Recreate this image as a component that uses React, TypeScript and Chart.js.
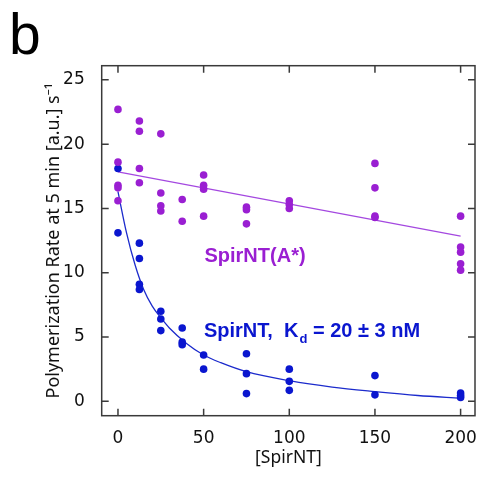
import React, { useEffect, useRef } from "react";
import { Chart, registerables } from "chart.js";

Chart.register(...registerables);

// ---- data ----
const xTicks = [0, 50, 100, 150, 200];
const yTicks = [0, 5, 10, 15, 20, 25];

// SpirNT(A*) measurements
const purpleX = [0, 0, 0, 0, 0, 12.5, 12.5, 12.5, 12.5, 25, 25, 25, 25, 37.5, 37.5, 50, 50, 50, 50, 75, 75, 75, 100, 100, 100, 150, 150, 150, 150, 200, 200, 200, 200, 200];
const purpleY = [22.7, 18.6, 16.8, 16.6, 15.6, 21.8, 21.0, 18.1, 17.0, 20.8, 16.2, 15.2, 14.8, 15.7, 14.0, 17.6, 16.8, 16.5, 14.4, 15.1, 14.9, 13.8, 15.6, 15.3, 15.0, 18.5, 16.6, 14.4, 14.3, 14.4, 12.0, 11.6, 10.7, 10.2];

// SpirNT measurements
const blueX = [0, 0, 12.5, 12.5, 12.5, 12.5, 25, 25, 25, 37.5, 37.5, 37.5, 50, 50, 75, 75, 75, 100, 100, 100, 150, 150, 200, 200, 200];
const blueY = [18.1, 13.1, 12.3, 11.1, 9.1, 8.7, 7.0, 6.4, 5.5, 5.7, 4.6, 4.4, 3.6, 2.5, 3.7, 2.15, 0.6, 2.5, 1.55, 0.85, 2.0, 0.5, 0.65, 0.45, 0.3];

// linear fit line for SpirNT(A*)
const purpleFitX = [0, 200];
const purpleFitY = [17.85, 12.85];

// binding-curve fit for SpirNT
const blueFitX = [0, 5, 10, 15, 20, 25, 30, 40, 50, 60, 75, 100, 125, 150, 175, 200];
const blueFitY = [16.3, 13.1, 10.6, 8.7, 7.4, 6.5, 5.7, 4.5, 3.6, 3.0, 2.3, 1.6, 1.1, 0.75, 0.45, 0.25];

const PURPLE = "#9a1fd2";
const PURPLE_LINE = "#a448e0";
const BLUE = "#0a16cf";
const BLUE_LINE = "#1c2bcc";
const FRAME = "#3a3a3a";

const zip = (xs: number[], ys: number[]) => xs.map((x, i) => ({ x, y: ys[i] }));

const decorPlugin = {
  id: "decor",
  afterDraw(chart: any) {
    const { ctx, chartArea, scales } = chart;
    const xs = scales.x;
    const ys = scales.y;
    const { left, right, top, bottom } = chartArea;
    ctx.save();
    // frame
    ctx.strokeStyle = FRAME;
    ctx.lineWidth = 1.5;
    ctx.strokeRect(left, top, right - left, bottom - top);
    // inward ticks on all four sides
    const tl = 7;
    ctx.beginPath();
    xTicks.forEach((v) => {
      const px = xs.getPixelForValue(v);
      ctx.moveTo(px, bottom);
      ctx.lineTo(px, bottom - tl);
      ctx.moveTo(px, top);
      ctx.lineTo(px, top + tl);
    });
    yTicks.forEach((v) => {
      const py = ys.getPixelForValue(v);
      ctx.moveTo(left, py);
      ctx.lineTo(left + tl, py);
      ctx.moveTo(right, py);
      ctx.lineTo(right - tl, py);
    });
    ctx.stroke();

    // panel letter
    ctx.fillStyle = "#000";
    ctx.font = "57px 'Liberation Sans', Arial, sans-serif";
    ctx.textAlign = "left";
    ctx.textBaseline = "alphabetic";
    ctx.fillText("b", 9, 54);

    // annotations
    ctx.font = "bold 20px 'Liberation Sans', Arial, sans-serif";
    ctx.fillStyle = PURPLE;
    ctx.textAlign = "center";
    ctx.textBaseline = "middle";
    ctx.fillText("SpirNT(A*)", xs.getPixelForValue(80), ys.getPixelForValue(11.3));

    ctx.fillStyle = BLUE;
    ctx.textAlign = "left";
    ctx.textBaseline = "alphabetic";
    let x0 = xs.getPixelForValue(50.2);
    const by = ys.getPixelForValue(5.0);
    const part1 = "SpirNT,  K";
    ctx.fillText(part1, x0, by);
    x0 += ctx.measureText(part1).width;
    ctx.font = "bold 13px 'Liberation Sans', Arial, sans-serif";
    ctx.fillText("d", x0 + 1, by + 6);
    x0 += ctx.measureText("d").width + 1;
    ctx.font = "bold 20px 'Liberation Sans', Arial, sans-serif";
    ctx.fillText(" = 20 ± 3 nM", x0, by);
    ctx.restore();
  },
};

export default function App() {
  const ref = useRef<HTMLCanvasElement | null>(null);

  useEffect(() => {
    if (!ref.current) return;
    const tickFont = { family: "'DejaVu Sans', sans-serif", size: 17 };
    const chart = new Chart(ref.current, {
      type: "scatter",
      data: {
        datasets: [
          {
            label: "SpirNT(A*) fit",
            data: zip(purpleFitX, purpleFitY),
            showLine: true,
            borderColor: PURPLE_LINE,
            borderWidth: 1.3,
            pointRadius: 0,
            order: 3,
          },
          {
            label: "SpirNT fit",
            data: zip(blueFitX, blueFitY),
            showLine: true,
            borderColor: BLUE_LINE,
            borderWidth: 1.3,
            pointRadius: 0,
            cubicInterpolationMode: "monotone",
            order: 4,
          },
          {
            label: "SpirNT(A*)",
            data: zip(purpleX, purpleY),
            backgroundColor: PURPLE,
            borderColor: PURPLE,
            pointRadius: 3.8,
            pointBorderWidth: 0,
            order: 1,
          },
          {
            label: "SpirNT",
            data: zip(blueX, blueY),
            backgroundColor: BLUE,
            borderColor: BLUE,
            pointRadius: 3.8,
            pointBorderWidth: 0,
            order: 2,
          },
        ],
      },
      options: {
        responsive: false,
        animation: false,
        layout: { padding: { left: 0, right: 5, top: 65.7, bottom: 0 } },
        plugins: {
          legend: { display: false },
          tooltip: { enabled: false },
        },
        scales: {
          x: {
            type: "linear",
            min: -9.5,
            max: 208.4,
            grid: { display: false },
            border: { display: false },
            afterFit: (s: any) => {
              s.height = 61.3;
              s.paddingLeft = 0;
              s.paddingRight = 0;
              s.paddingTop = 0;
              s.paddingBottom = 0;
            },
            afterBuildTicks: (s: any) => {
              s.ticks = xTicks.map((v) => ({ value: v }));
            },
            ticks: {
              color: "#111",
              font: tickFont,
              padding: 5,
              maxRotation: 0,
            },
            title: {
              display: true,
              text: "[SpirNT]",
              color: "#111",
              font: { family: "'Noto Sans', sans-serif", size: 17.5 },
              padding: { top: 0, bottom: 8 },
            },
          },
          y: {
            type: "linear",
            min: -1.12,
            max: 26.1,
            grid: { display: false },
            border: { display: false },
            afterFit: (s: any) => {
              s.width = 101.7;
              s.paddingLeft = 0;
              s.paddingRight = 0;
              s.paddingTop = 0;
              s.paddingBottom = 0;
            },
            afterBuildTicks: (s: any) => {
              s.ticks = yTicks.map((v) => ({ value: v }));
            },
            ticks: {
              color: "#111",
              font: tickFont,
              padding: 9,
            },
            title: {
              display: true,
              text: "Polymerization Rate at 5 min [a.u.] s\u207B\u00B9",
              color: "#111",
              font: { family: "'Noto Sans', sans-serif", size: 18 },
              padding: { top: 43, bottom: 0 },
            },
          },
        },
      },
      plugins: [decorPlugin],
    } as any);
    return () => chart.destroy();
  }, []);

  return (
    <div style={{ position: "fixed", left: 0, top: 0, width: 480, height: 477, background: "#fff" }}>
      <canvas ref={ref} width={480} height={477} style={{ display: "block" }} />
    </div>
  );
}
